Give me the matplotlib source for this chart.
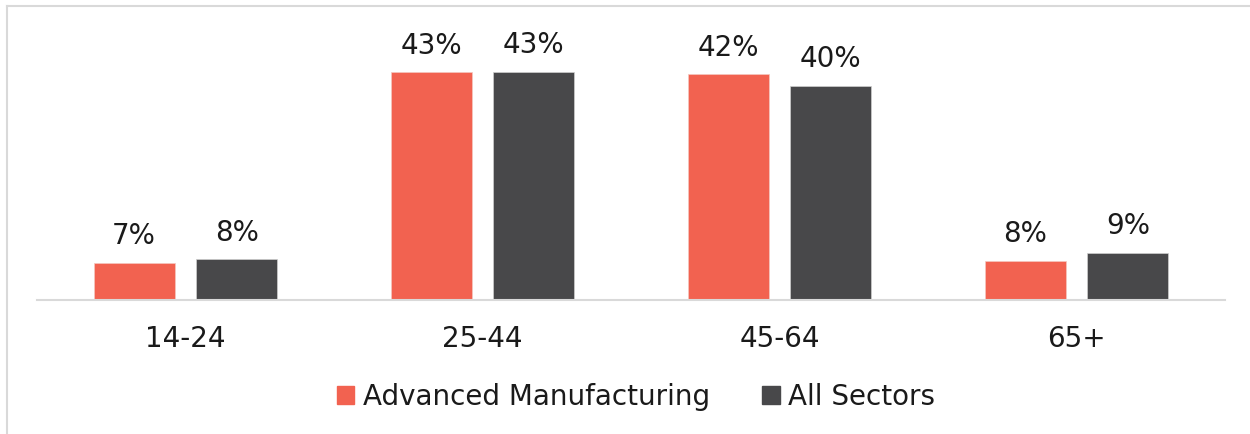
import numpy as np
import matplotlib.pyplot as plt
from matplotlib.patches import Rectangle
from matplotlib.lines import Line2D

# age groups and shares (%)
groups = ['14-24', '25-44', '45-64', '65+']
adv_mfg = [7.0, 43.0, 42.6, 7.4]
all_sectors = [7.7, 43.1, 40.4, 8.9]
adv_labels = ['7%', '43%', '42%', '8%']
all_labels = ['8%', '43%', '40%', '9%']
series_names = ['Advanced Manufacturing', 'All Sectors']

c_adv = '#F26250'
c_all = '#48484A'
grey = '#D9D9D9'
txt = '#1A1A1A'
fs = 20

W, H = 1250, 434
fig = plt.figure(figsize=(W / 100, H / 100), dpi=100)
ax = fig.add_axes([37 / W, (H - 300) / H, (1225 - 37) / W, 294 / H])

x = np.arange(len(groups))
bw = 0.273
off = 0.173
b1 = ax.bar(x - off, adv_mfg, bw, color=c_adv, edgecolor='#F4C8C0', linewidth=0.5)
b2 = ax.bar(x + off, all_sectors, bw, color=c_all, edgecolor='#CFCFCF', linewidth=0.5)

for bars, labs in ((b1, adv_labels), (b2, all_labels)):
    for b, t in zip(bars, labs):
        ax.annotate(t, (b.get_x() + b.get_width() / 2, b.get_height()),
                    xytext=(0, 9), textcoords='offset points',
                    ha='center', va='bottom', fontsize=fs, color=txt)

ax.set_xlim(-0.5, 3.5)
ax.set_ylim(0, 55.5)
ax.set_xticks(x)
ax.set_xticklabels(groups, fontsize=fs, color=txt)
ax.tick_params(axis='x', length=0, pad=18)
ax.set_yticks([])
for s in ['top', 'right', 'left']:
    ax.spines[s].set_visible(False)
ax.spines['bottom'].set_color(grey)
ax.spines['bottom'].set_linewidth(1.5)

handles = [Rectangle((0, 0), 1, 1, color=c_adv), Rectangle((0, 0), 1, 1, color=c_all)]
fig.legend(handles, series_names, loc='center', bbox_to_anchor=(636 / W, (H - 397) / H),
           ncol=2, frameon=False, fontsize=fs, handlelength=0.62, handleheight=0.62,
           handletextpad=0.3, columnspacing=1.9, labelcolor=txt)

# light frame at top and left
fig.add_artist(Line2D([7 / W, 1.0], [(H - 6) / H] * 2, transform=fig.transFigure, color=grey, lw=1.5))
fig.add_artist(Line2D([7 / W] * 2, [0, (H - 6) / H], transform=fig.transFigure, color=grey, lw=1.5))

fig.savefig('out.png', dpi=100)
